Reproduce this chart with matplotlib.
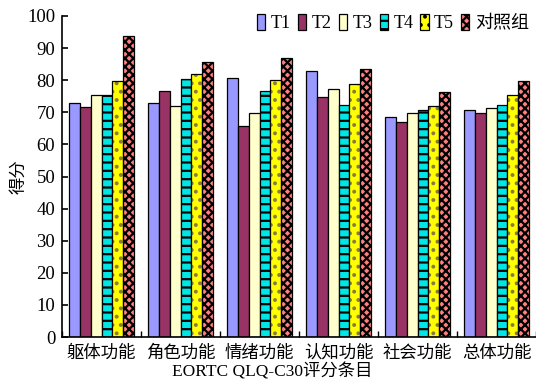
import numpy as np
import matplotlib
matplotlib.use("Agg")
import matplotlib.pyplot as plt

plt.rcParams['font.family'] = ['Liberation Serif', 'Noto Sans CJK SC']
plt.rcParams['hatch.linewidth'] = 1.6

categories = ['躯体功能', '角色功能', '情绪功能', '认知功能', '社会功能', '总体功能']
series_names = ['T1', 'T2', 'T3', 'T4', 'T5', '对照组']
t1 = [73.0, 73.0, 80.6, 82.9, 68.4, 70.7]
t2 = [71.6, 76.6, 65.7, 74.8, 67.0, 69.7]
t3 = [75.5, 72.0, 69.7, 77.2, 69.7, 71.3]
t4 = [75.5, 80.3, 76.7, 72.2, 70.8, 72.2]
t5 = [79.7, 82.0, 80.0, 78.8, 72.0, 75.3]
control = [93.9, 85.7, 87.0, 83.5, 76.3, 79.7]
yticks = [0, 10, 20, 30, 40, 50, 60, 70, 80, 90, 100]

series = [t1, t2, t3, t4, t5, control]
faces = ['#9999ff', '#993366', '#ffffcc', '#00e5e5', '#ffff00', '#ff8080']
hatches = [None, None, None, '--', '..', 'xxxx']
hatch_colors = [None, None, None, 'black', '#8a7a40', 'black']

fig = plt.figure(figsize=(5.36, 3.80), dpi=100)
ax = fig.add_axes([0.116, 0.113, 0.884, 0.845])

x = np.arange(len(categories))
w = 0.137
for k, (vals, fc, h, hc) in enumerate(zip(series, faces, hatches, hatch_colors)):
    pos = x + (k - 2.5) * w
    if h is None:
        ax.bar(pos, vals, width=w, color=fc, edgecolor='black',
               linewidth=0.9, label=series_names[k])
    else:
        # patterned fill first, then a black outline on top
        ax.bar(pos, vals, width=w, color=fc, edgecolor=hc, linewidth=0,
               hatch=h)
        ax.bar(pos, vals, width=w, facecolor='none', edgecolor='black',
               linewidth=0.9)
        ax.bar([np.nan], [np.nan], color=fc, edgecolor='black', hatch=h,
               linewidth=0.9, label=series_names[k])

ax.set_xlim(-0.5, len(categories) - 0.5)
ax.set_ylim(0, 100)
ax.set_yticks(yticks)
ax.set_xticks(x)
ax.set_xticklabels(categories, fontsize=12.5)
ax.tick_params(axis='x', length=0, pad=6)
ax.set_xticks(np.arange(len(categories) + 1) - 0.5, minor=True)
ax.tick_params(axis='x', which='minor', direction='in', length=4, width=1)
ax.tick_params(axis='y', direction='in', length=4, width=1.2, labelsize=13.5, pad=5)
for s in ('top', 'right'):
    ax.spines[s].set_visible(False)
ax.spines['left'].set_linewidth(1.2)
ax.spines['bottom'].set_linewidth(1.2)

ax.set_ylabel('得分', fontsize=12.5, labelpad=0)
ax.set_xlabel('EORTC QLQ-C30评分条目', fontsize=12.5)
ax.xaxis.set_label_coords(0.443, -0.083)

ax.legend(loc='upper right', bbox_to_anchor=(1.0, 1.03), ncol=6, frameon=False,
          fontsize=13, handlelength=0.45, handleheight=1.0, handletextpad=0.3,
          columnspacing=0.4, borderaxespad=0)

fig.savefig('out.png', dpi=100)
